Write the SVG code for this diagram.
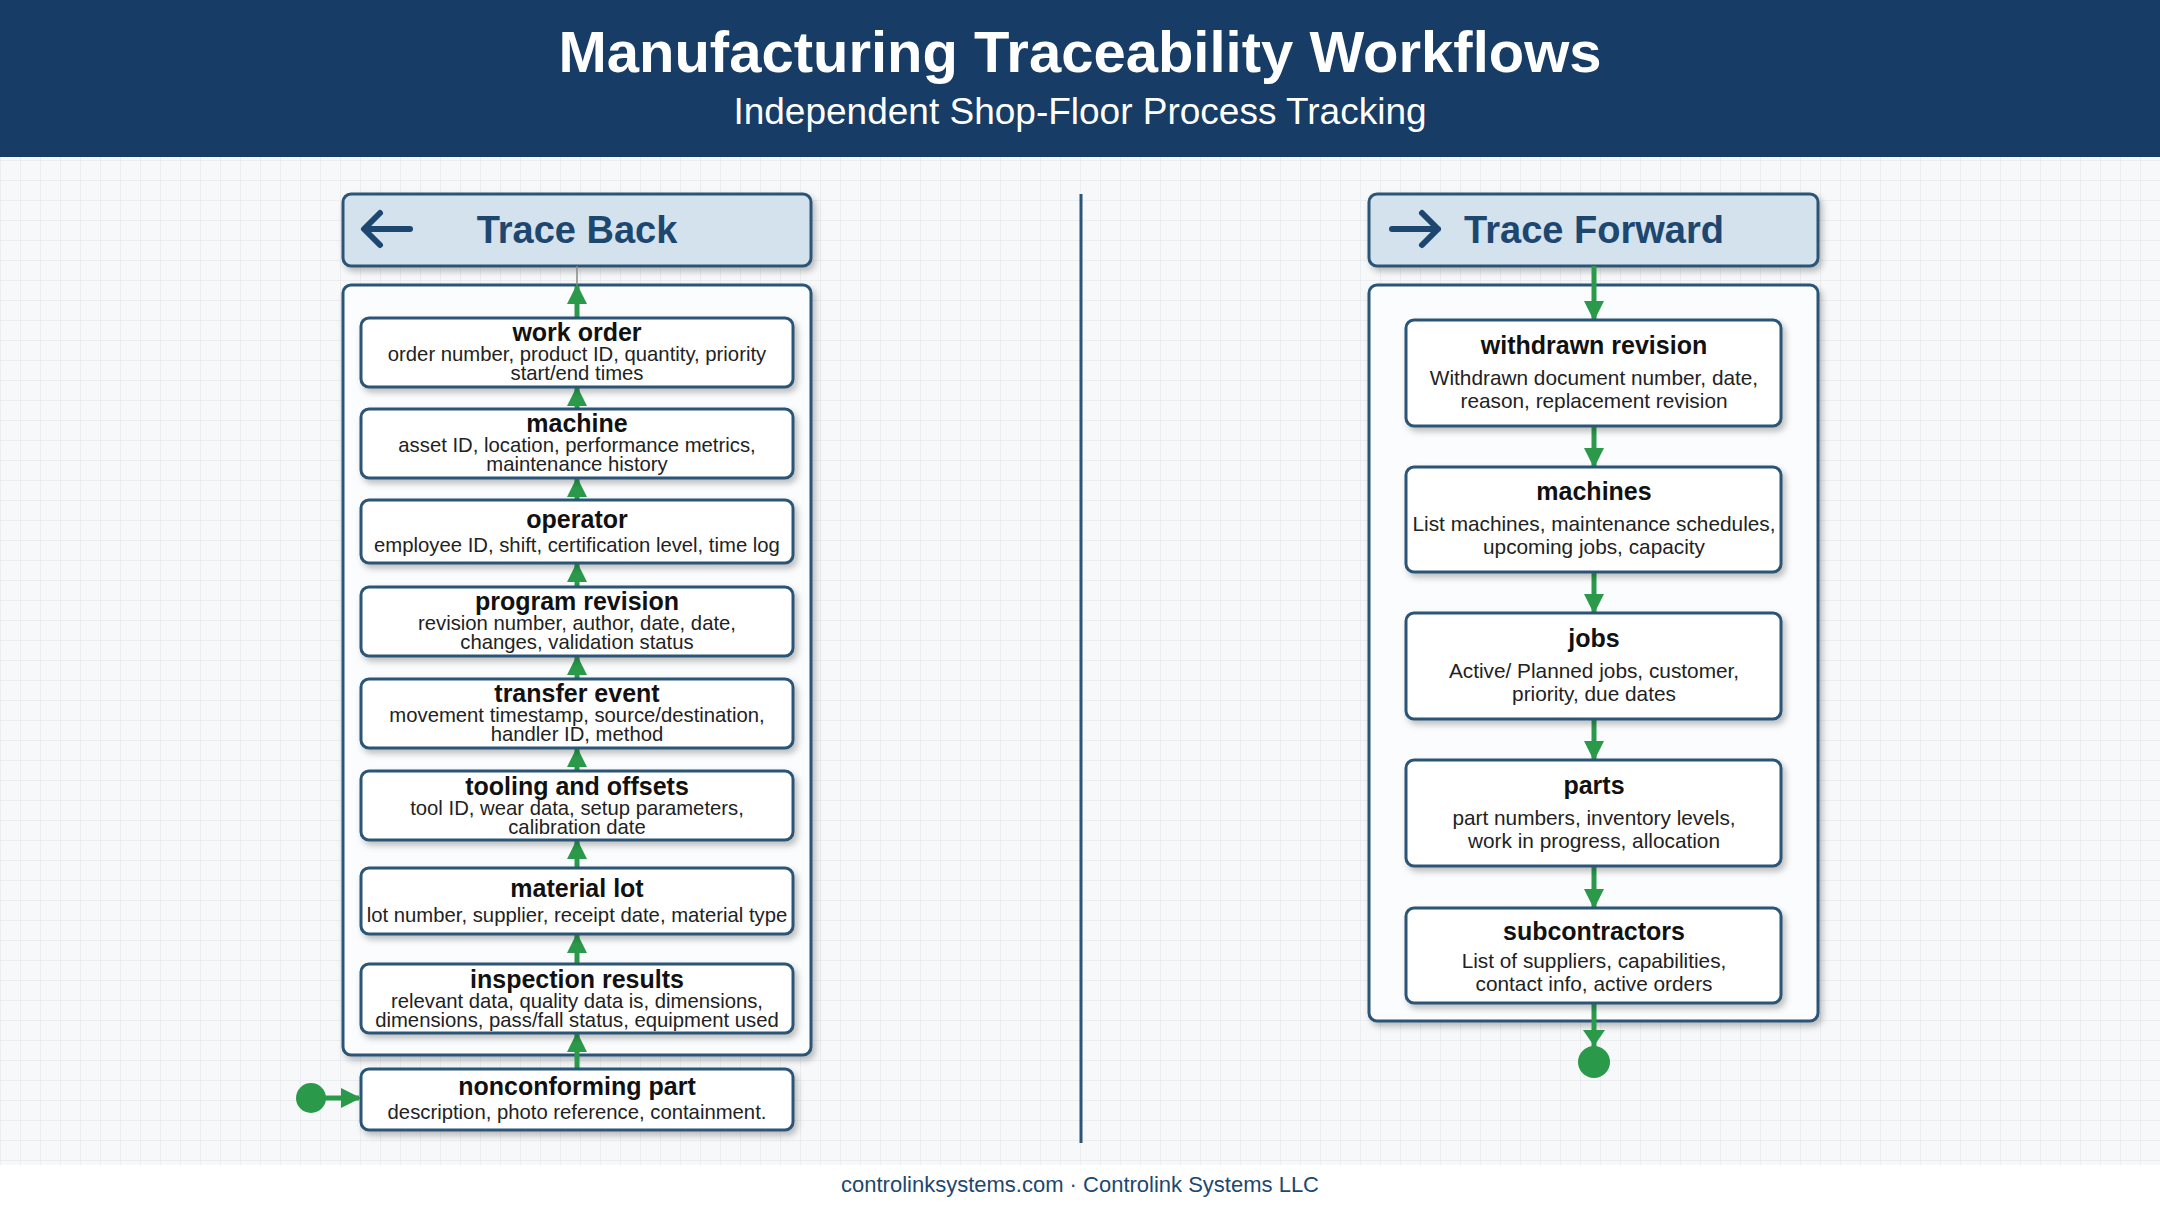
<svg xmlns="http://www.w3.org/2000/svg" width="2160" height="1206" viewBox="0 0 2160 1206">
<defs>
<pattern id="grid" width="20" height="20" patternUnits="userSpaceOnUse"><path d="M20 0H0V20" fill="none" stroke="#dfe2e6" stroke-width="1"/></pattern>
<filter id="sh" x="-10%" y="-10%" width="120%" height="130%"><feDropShadow dx="3" dy="4" stdDeviation="3" flood-color="#000" flood-opacity="0.25"/></filter>
<marker id="ah" viewBox="0 0 10 10" refX="9" refY="5" markerWidth="4" markerHeight="4" orient="auto"><path d="M0 0L10 5L0 10z" fill="#2a9a4a"/></marker>
</defs>
<style>
.hd{fill:#d3e2ec;stroke:#2a5577;stroke-width:3}
.ct{fill:#fbfcfd;stroke:#2a5577;stroke-width:3}
.nd{fill:#fff;stroke:#2a5577;stroke-width:3}
.ht{font-family:"Liberation Sans",Arial,sans-serif;font-weight:bold;font-size:38px;fill:#1e4770}
.t{font-family:"Liberation Sans",Arial,sans-serif;font-weight:bold;font-size:25px;fill:#111;text-anchor:middle}
.d{font-family:"Liberation Sans",Arial,sans-serif;font-size:20.3px;fill:#222;text-anchor:middle}
.r{font-size:20.8px}
.c{stroke:#2a9a4a;stroke-width:5;fill:none;marker-end:url(#ah)}
.ic{stroke:#1e4770;stroke-width:6;fill:none;stroke-linecap:round;stroke-linejoin:round}
</style>
<rect width="2160" height="1206" fill="#f7f8fa"/>
<rect width="2160" height="1165" fill="url(#grid)"/>
<rect y="1165" width="2160" height="41" fill="#fff"/>
<rect width="2160" height="157" fill="#173c66"/>
<text x="1080" y="72" text-anchor="middle" font-family="Liberation Sans,Arial,sans-serif" font-weight="bold" font-size="58" fill="#fff">Manufacturing Traceability Workflows</text>
<text x="1080" y="124" text-anchor="middle" font-family="Liberation Sans,Arial,sans-serif" font-size="37" fill="#fff">Independent Shop-Floor Process Tracking</text>
<line x1="1081" y1="194" x2="1081" y2="1143" stroke="#2a5577" stroke-width="3"/>

<g id="traceBackHeader">
<rect class="hd" x="343" y="194" width="468" height="72" rx="8" filter="url(#sh)"/>
<path class="ic" d="M410 229H365M380 213L364 229L380 245"/>
<text class="ht" x="577" y="243" text-anchor="middle">Trace Back</text>
</g>
<rect id="backContainer" class="ct" x="343" y="285" width="468" height="770" rx="8" filter="url(#sh)"/>
<line x1="577" y1="266" x2="577" y2="285" stroke="#888" stroke-width="1.5"/>

<g id="traceFwdHeader">
<rect class="hd" x="1369" y="194" width="449" height="72" rx="8" filter="url(#sh)"/>
<path class="ic" d="M1392 229H1438M1422 213L1438 229L1422 245"/>
<text class="ht" x="1594" y="243" text-anchor="middle">Trace Forward</text>
</g>
<rect id="fwdContainer" class="ct" x="1369" y="285" width="449" height="736" rx="8" filter="url(#sh)"/>

<g id="connectors">
<line class="c" x1="577" y1="318" x2="577" y2="286"/>
<line class="c" x1="577" y1="409" x2="577" y2="388"/>
<line class="c" x1="577" y1="500" x2="577" y2="479"/>
<line class="c" x1="577" y1="587" x2="577" y2="564"/>
<line class="c" x1="577" y1="679" x2="577" y2="657"/>
<line class="c" x1="577" y1="771" x2="577" y2="749"/>
<line class="c" x1="577" y1="868" x2="577" y2="841"/>
<line class="c" x1="577" y1="964" x2="577" y2="935"/>
<line class="c" x1="577" y1="1069" x2="577" y2="1034"/>
<circle cx="311" cy="1098" r="15" fill="#2a9a4a"/>
<line class="c" x1="320" y1="1098" x2="359" y2="1098"/>
<line class="c" x1="1594" y1="266" x2="1594" y2="319"/>
<line class="c" x1="1594" y1="426" x2="1594" y2="466"/>
<line class="c" x1="1594" y1="572" x2="1594" y2="612"/>
<line class="c" x1="1594" y1="719" x2="1594" y2="759"/>
<line class="c" x1="1594" y1="866" x2="1594" y2="907"/>
<line x1="1594" y1="1003" x2="1594" y2="1050" stroke="#2a9a4a" stroke-width="5"/>
<path d="M1583 1030L1594 1046L1605 1030z" fill="#2a9a4a"/>
<circle cx="1594" cy="1062" r="16" fill="#2a9a4a"/>
</g>

<g id="workOrder"><rect class="nd" x="361" y="318" width="432" height="69" rx="8" filter="url(#sh)"/>
<text class="t" x="577" y="341">work order</text><text class="d" x="577" y="361">order number, product ID, quantity, priority</text><text class="d" x="577" y="380">start/end times</text></g>
<g id="machine"><rect class="nd" x="361" y="409" width="432" height="69" rx="8" filter="url(#sh)"/>
<text class="t" x="577" y="432">machine</text><text class="d" x="577" y="452">asset ID, location, performance metrics,</text><text class="d" x="577" y="471">maintenance history</text></g>
<g id="operator"><rect class="nd" x="361" y="500" width="432" height="63" rx="8" filter="url(#sh)"/>
<text class="t" x="577" y="528">operator</text><text class="d" x="577" y="552">employee ID, shift, certification level, time log</text></g>
<g id="programRevision"><rect class="nd" x="361" y="587" width="432" height="69" rx="8" filter="url(#sh)"/>
<text class="t" x="577" y="610">program revision</text><text class="d" x="577" y="630">revision number, author, date, date,</text><text class="d" x="577" y="649">changes, validation status</text></g>
<g id="transferEvent"><rect class="nd" x="361" y="679" width="432" height="69" rx="8" filter="url(#sh)"/>
<text class="t" x="577" y="702">transfer event</text><text class="d" x="577" y="722">movement timestamp, source/destination,</text><text class="d" x="577" y="741">handler ID, method</text></g>
<g id="tooling"><rect class="nd" x="361" y="771" width="432" height="69" rx="8" filter="url(#sh)"/>
<text class="t" x="577" y="795">tooling and offsets</text><text class="d" x="577" y="815">tool ID, wear data, setup parameters,</text><text class="d" x="577" y="834">calibration date</text></g>
<g id="materialLot"><rect class="nd" x="361" y="868" width="432" height="66" rx="8" filter="url(#sh)"/>
<text class="t" x="577" y="897">material lot</text><text class="d" x="577" y="922">lot number, supplier, receipt date, material type</text></g>
<g id="inspection"><rect class="nd" x="361" y="964" width="432" height="69" rx="8" filter="url(#sh)"/>
<text class="t" x="577" y="988">inspection results</text><text class="d" x="577" y="1008">relevant data, quality data is, dimensions,</text><text class="d" x="577" y="1027">dimensions, pass/fall status, equipment used</text></g>
<g id="nonconforming"><rect class="nd" x="361" y="1069" width="432" height="61" rx="8" filter="url(#sh)"/>
<text class="t" x="577" y="1095">nonconforming part</text><text class="d" x="577" y="1119">description, photo reference, containment.</text></g>

<g id="withdrawn"><rect class="nd" x="1406" y="320" width="375" height="106" rx="8" filter="url(#sh)"/>
<text class="t" x="1594" y="354" font-size="26">withdrawn revision</text><text class="d r" x="1594" y="385">Withdrawn document number, date,</text><text class="d r" x="1594" y="408">reason, replacement revision</text></g>
<g id="machines"><rect class="nd" x="1406" y="467" width="375" height="105" rx="8" filter="url(#sh)"/>
<text class="t" x="1594" y="500" font-size="26">machines</text><text class="d r" x="1594" y="531">List machines, maintenance schedules,</text><text class="d r" x="1594" y="554">upcoming jobs, capacity</text></g>
<g id="jobs"><rect class="nd" x="1406" y="613" width="375" height="106" rx="8" filter="url(#sh)"/>
<text class="t" x="1594" y="647" font-size="26">jobs</text><text class="d r" x="1594" y="678">Active/ Planned jobs, customer,</text><text class="d r" x="1594" y="701">priority, due dates</text></g>
<g id="parts"><rect class="nd" x="1406" y="760" width="375" height="106" rx="8" filter="url(#sh)"/>
<text class="t" x="1594" y="794" font-size="26">parts</text><text class="d r" x="1594" y="825">part numbers, inventory levels,</text><text class="d r" x="1594" y="848">work in progress, allocation</text></g>
<g id="subcontractors"><rect class="nd" x="1406" y="908" width="375" height="95" rx="8" filter="url(#sh)"/>
<text class="t" x="1594" y="940" font-size="26">subcontractors</text><text class="d r" x="1594" y="968">List of suppliers, capabilities,</text><text class="d r" x="1594" y="991">contact info, active orders</text></g>

<text x="1080" y="1192" text-anchor="middle" font-family="Liberation Sans,Arial,sans-serif" font-size="22" fill="#1e4770">controlinksystems.com · Controlink Systems LLC</text>
</svg>
